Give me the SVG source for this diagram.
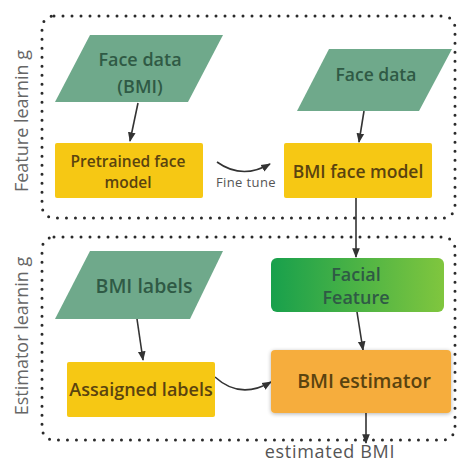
<svg xmlns="http://www.w3.org/2000/svg" width="459" height="464" viewBox="0 0 459 464">
<defs>
<style>
.grp{fill:none;stroke:#2a2a2a;stroke-width:3;stroke-dasharray:0 9;stroke-linecap:round}
.para{fill:#6fa98b}
.yel{fill:#f6c814}
.t{font-family:"Open Sans","Noto Sans",sans-serif;font-weight:600;text-anchor:middle}
.tg{fill:#2f5a45}
.ty{fill:#5a430f}
.side{font-family:"Open Sans","Noto Sans",sans-serif;font-size:18px;fill:#666;text-anchor:middle}
.edge{fill:none;stroke:#333;stroke-width:1.6}
</style>
<marker id="ah" viewBox="0 0 10 10" refX="9" refY="5" markerWidth="6" markerHeight="6" orient="auto">
<path d="M0,1 L10,5 L0,9 Z" fill="#333"/>
</marker>
<linearGradient id="gg" x1="0" y1="0" x2="1" y2="0">
<stop offset="0" stop-color="#18a04c"/>
<stop offset="1" stop-color="#80c63e"/>
</linearGradient>
<filter id="sh" x="-10%" y="-10%" width="120%" height="130%">
<feGaussianBlur in="SourceAlpha" stdDeviation="2"/>
<feOffset dy="1"/>
<feComponentTransfer><feFuncA type="linear" slope="0.3"/></feComponentTransfer>
<feMerge><feMergeNode/><feMergeNode in="SourceGraphic"/></feMerge>
</filter>
</defs>
<rect width="459" height="464" fill="#ffffff"/>

<g id="group-feature">
<rect class="grp" x="42" y="16" width="413" height="202" rx="12"/>
<text class="side" transform="translate(28,121) rotate(-90)">Feature learnin g</text>
</g>
<g id="group-estimator">
<rect class="grp" x="42" y="237" width="413" height="203" rx="12"/>
<text class="side" transform="translate(28,336) rotate(-90)">Estimator learnin g</text>
</g>

<g id="connectors">
<line class="edge" x1="138" y1="103" x2="130" y2="141" marker-end="url(#ah)"/>
<line class="edge" x1="364" y1="111" x2="359" y2="142" marker-end="url(#ah)"/>
<path class="edge" d="M217,162 Q242,180 270,164" marker-end="url(#ah)"/>
<text x="246" y="187" font-family="Open Sans, Noto Sans, sans-serif" font-size="13" letter-spacing="0.4" fill="#555" text-anchor="middle">Fine tune</text>
<line class="edge" x1="356" y1="198" x2="356" y2="257" marker-end="url(#ah)"/>
<line class="edge" x1="357" y1="312" x2="363" y2="350" marker-end="url(#ah)"/>
<line class="edge" x1="137" y1="319" x2="143" y2="360" marker-end="url(#ah)"/>
<path class="edge" d="M215,377 Q240,400 271,382" marker-end="url(#ah)"/>
<line class="edge" x1="366" y1="413" x2="366" y2="443" marker-end="url(#ah)"/>
</g>

<g id="face-data-bmi">
<polygon class="para" points="90,35 223,35 188,102 55,102"/>
<text class="t tg" x="140" y="66" font-size="18">Face data</text>
<text class="t tg" x="140" y="93" font-size="18">(BMI)</text>
</g>
<g id="pretrained">
<rect class="yel" x="55" y="143" width="148" height="55" rx="2"/>
<text class="t ty" x="128" y="167" font-size="15.5">Pretrained face</text>
<text class="t ty" x="128" y="188" font-size="15.5">model</text>
</g>
<g id="face-data">
<polygon class="para" points="329,49 452,49 419,111 297,111"/>
<text class="t tg" x="376" y="81" font-size="17.5">Face data</text>
</g>
<g id="bmi-face-model">
<rect class="yel" x="284" y="143" width="148" height="55" rx="2"/>
<text class="t ty" x="358" y="178" font-size="17.5">BMI face model</text>
</g>
<g id="bmi-labels">
<polygon class="para" points="90,251 223,251 190,319 55,319"/>
<text class="t tg" x="144" y="293" font-size="19.5">BMI labels</text>
</g>
<g id="assaigned">
<rect class="yel" x="67" y="362" width="148" height="55" rx="2"/>
<text class="t ty" x="141" y="396" font-size="18">Assaigned labels</text>
</g>
<g id="facial-feature">
<rect x="271" y="258" width="173" height="54" rx="6" fill="url(#gg)"/>
<text class="t tg" x="356" y="281" font-size="18">Facial</text>
<text class="t tg" x="356" y="304" font-size="18">Feature</text>
</g>
<g id="bmi-estimator">
<rect x="271" y="350" width="180" height="63" rx="4" fill="#f6ad3c" filter="url(#sh)"/>
<text class="t ty" x="364" y="388" font-size="19.5">BMI estimator</text>
</g>
<g id="estimated-bmi">
<text x="330" y="458" font-family="Open Sans, Noto Sans, sans-serif" font-size="18" letter-spacing="0.7" fill="#555" text-anchor="middle">estimated BMI</text>
</g>
</svg>
